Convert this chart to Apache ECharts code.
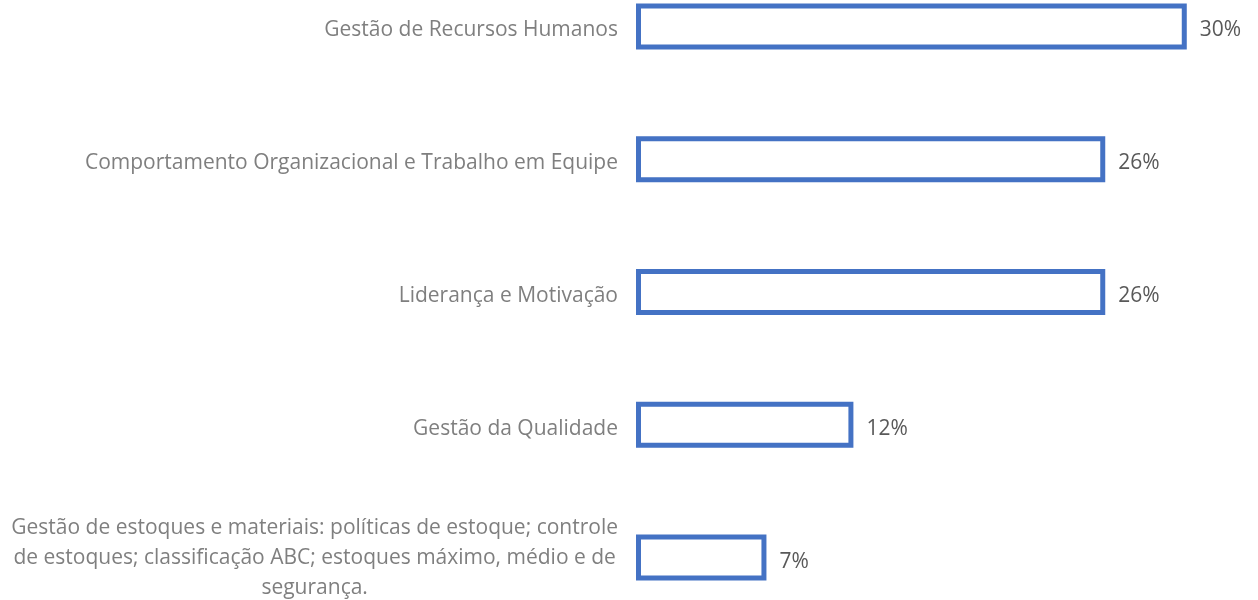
<!DOCTYPE html>
<html>
<head>
<meta charset="utf-8">
<script src="https://cdn.jsdelivr.net/npm/echarts@6/dist/echarts.min.js"></script>
<style>
  html, body { margin: 0; padding: 0; background: #fff; overflow: hidden; }
  #chart { position: relative; top: -40px; width: 1258px; height: 664px; }
</style>
</head>
<body>
<div id="chart"></div>
<script>
  const categories = [
    'Gestão de Recursos Humanos',
    'Comportamento Organizacional e Trabalho em Equipe',
    'Liderança e Motivação',
    'Gestão da Qualidade',
    'Gestão de estoques e materiais: políticas de estoque; controle\nde estoques; classificação ABC; estoques máximo, médio e de\nsegurança.'
  ]
  const values = [30.4, 25.9, 25.9, 12.0, 7.2]

  const mChart = echarts.init(document.getElementById('chart'))
  const option = {
    animation: false,
    grid: {
      left: 636,
      right: 6,
      top: 0,
      bottom: 0,
      containLabel: false
    },
    xAxis: {
      type: 'value',
      min: 0,
      max: 34,
      show: false
    },
    yAxis: {
      type: 'category',
      inverse: true,
      data: categories,
      axisLine: { show: false },
      axisTick: { show: false },
      splitLine: { show: false },
      axisLabel: {
        margin: 18,
        formatter: function (val) {
          const lines = val.split('\n')
          if (lines.length === 1) return '{s|' + val + '}'
          return lines.map(s => '{c|' + s + '}').join('\n')
        },
        rich: {
          c: {
            align: 'center',
            color: '#7f7f7f',
            fontSize: 21,
            lineHeight: 30,
            fontFamily: 'Open Sans'
          },
          s: {
            color: '#7f7f7f',
            fontSize: 21,
            lineHeight: 30,
            padding: [8, 0, 0, 0],
            fontFamily: 'Open Sans'
          }
        }
      }
    },
    series: [{
      type: 'bar',
      data: values,
      barWidth: 46,
      itemStyle: {
        color: '#ffffff',
        borderColor: '#4472c4',
        borderWidth: 5
      },
      label: {
        show: true,
        position: 'right',
        distance: 13,
        offset: [0, 4],
        color: '#595959',
        fontSize: 21,
        fontFamily: 'Open Sans',
        formatter: function (p) {
          return Math.round(p.value) + '%'
        }
      }
    }]
  }
  mChart.setOption(option)
  window.addEventListener('resize', function () {
    mChart.resize()
  })
</script>
</body>
</html>
